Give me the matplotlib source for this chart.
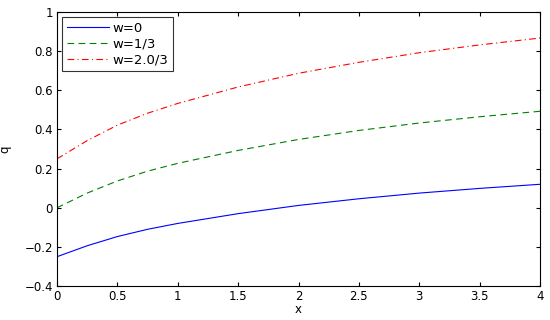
import numpy as np
import matplotlib
matplotlib.use('Agg')
import matplotlib.pyplot as plt

plt.rcParams['font.family'] = ['DejaVu Sans']

x = [0, 0.25, 0.5, 0.75, 1, 1.5, 2, 2.5, 3, 3.5, 4]
q_w0 = [-0.25, -0.194, -0.147, -0.110, -0.080, -0.030, 0.012, 0.046, 0.075, 0.099, 0.120]
q_w13 = [0.0, 0.075, 0.137, 0.187, 0.227, 0.293, 0.349, 0.395, 0.433, 0.465, 0.493]
q_w23 = [0.25, 0.343, 0.422, 0.483, 0.533, 0.617, 0.687, 0.743, 0.792, 0.832, 0.867]
labels = ['w=0', 'w=1/3', 'w=2.0/3']

fig = plt.figure(figsize=(5.5, 3.2), dpi=100)
ax = fig.add_axes([0.1036, 0.106, 0.8784, 0.8565])

ax.plot(x, q_w0, '-', color='#0000ff', lw=0.8, label=labels[0])
ax.plot(x, q_w13, '--', color='#008000', lw=0.8, dashes=(6, 4), label=labels[1])
ax.plot(x, q_w23, '-.', color='#ff0000', lw=0.8, dashes=(6, 3, 1, 3), label=labels[2])

ax.set_xlim(0, 4)
ax.set_ylim(-0.4, 1)
ax.set_xticks(np.arange(0, 4.01, 0.5))
ax.set_xticklabels(['0', '0.5', '1', '1.5', '2', '2.5', '3', '3.5', '4'])
ax.set_yticks(np.arange(-0.4, 1.01, 0.2))
ax.set_yticklabels(['\u22120.4', '\u22120.2', '0', '0.2', '0.4', '0.6', '0.8', '1'])
ax.tick_params(direction='in', top=True, right=True, labelsize=8.5, length=3, width=0.8, pad=3)
for s in ax.spines.values():
    s.set_linewidth(0.8)

ax.set_xlabel('x', fontsize=8.5, labelpad=0)
ax.set_ylabel('q', fontsize=8.5, labelpad=9)

leg = ax.legend(loc='upper left', fontsize=9.5, frameon=True, fancybox=False,
                edgecolor='black', handlelength=3.25, handletextpad=0.25,
                borderaxespad=0.38, labelspacing=0.22, borderpad=0.35)
leg.get_frame().set_linewidth(0.8)

fig.savefig('out.png', dpi=100)
